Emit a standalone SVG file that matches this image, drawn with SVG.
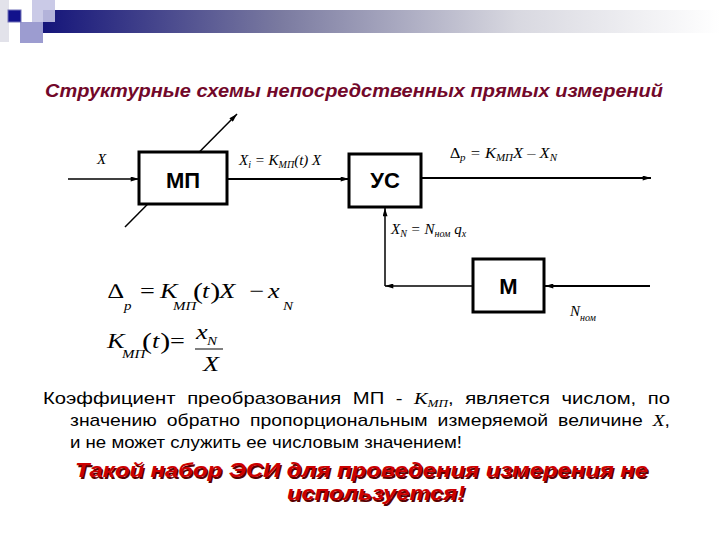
<svg xmlns="http://www.w3.org/2000/svg" width="720" height="540" viewBox="0 0 720 540">
<defs>
<linearGradient id="bar" x1="0" y1="0" x2="1" y2="0">
<stop offset="0" stop-color="#15157a"/>
<stop offset="0.35" stop-color="#7a7aa0"/>
<stop offset="0.7" stop-color="#d8d8e0"/>
<stop offset="1" stop-color="#ffffff"/>
</linearGradient>
<marker id="ah" viewBox="0 0 10 6" refX="10" refY="3" markerWidth="9" markerHeight="5" markerUnits="userSpaceOnUse" orient="auto"><path d="M0,0 L10,3 L0,6 z" fill="#000"/></marker>
</defs>
<style>
.box{fill:#fff;stroke:#000;stroke-width:3}
.bt{font-family:"Liberation Sans",Arial,sans-serif;font-weight:bold;font-size:22px;text-anchor:middle}
.lbl{font-family:"Liberation Serif","Times New Roman",serif;font-style:italic;font-size:15px}
.sub{font-size:10px}
.fm{font-family:"Liberation Serif","Times New Roman",serif;font-style:italic;font-size:21px}
.fs{font-size:12px}
.up{font-style:normal}
.body{font-family:"Liberation Sans",Arial,sans-serif;font-size:17px;fill:#000}
.title{font-family:"Liberation Sans",Arial,sans-serif;font-weight:bold;font-style:italic;font-size:18px;fill:#72082a}
.red{font-family:"Liberation Sans",Arial,sans-serif;font-weight:bold;font-style:italic;font-size:21px}
.ln{stroke:#000;fill:none}
</style>
<g id="decor">
<rect x="0" y="0" width="9" height="42" fill="#e2e2ea"/>
<rect x="43" y="10" width="677" height="23" fill="url(#bar)"/>
<rect x="32" y="0" width="23" height="22" fill="#c4c4e4" opacity="0.9"/>
<rect x="20" y="22" width="23" height="21" fill="#9c9cd0"/>
<rect x="8" y="10" width="13" height="12" fill="#12128c" stroke="#7070b8" stroke-width="1"/>
</g>
<text class="title" x="45" y="97" textLength="618" lengthAdjust="spacingAndGlyphs">Структурные схемы непосредственных прямых измерений</text>
<g id="connectors">
<line class="ln" x1="68" y1="179" x2="139" y2="179" stroke-width="1.5" marker-end="url(#ah)"/>
<line class="ln" x1="125" y1="227" x2="237" y2="114" stroke-width="1.5" marker-end="url(#ah)"/>
<line class="ln" x1="227" y1="179" x2="349" y2="179" stroke-width="2" marker-end="url(#ah)"/>
<line class="ln" x1="421" y1="178" x2="651" y2="178" stroke-width="2" marker-end="url(#ah)"/>
<line class="ln" x1="473" y1="286" x2="385" y2="286" stroke-width="1.5" marker-end="url(#ah)"/>
<line class="ln" x1="385" y1="286" x2="385" y2="208" stroke-width="1.5" marker-end="url(#ah)"/>
<line class="ln" x1="650" y1="286" x2="545" y2="286" stroke-width="2" marker-end="url(#ah)"/>
</g>
<g id="mp">
<rect class="box" x="139" y="152" width="88" height="52"/>
<text class="bt" x="183" y="188">МП</text>
</g>
<g id="us">
<rect class="box" x="349" y="154" width="72" height="53"/>
<text class="bt" x="385" y="188">УС</text>
</g>
<g id="m">
<rect class="box" x="473" y="259" width="71" height="53" stroke-width="2.5"/>
<text class="bt" x="508.5" y="294" font-size="24">М</text>
</g>
<g id="labels">
<text class="lbl" x="97" y="164">X</text>
<text class="lbl" x="239" y="165">X<tspan class="sub" dy="3">i</tspan><tspan dy="-3"> = K</tspan><tspan class="sub" dy="3">МП</tspan><tspan dy="-3">(t) X</tspan></text>
<text class="lbl" x="450" y="158" font-size="14" textLength="107" lengthAdjust="spacingAndGlyphs">∆<tspan class="sub" dy="3" font-size="10">p</tspan><tspan dy="-3"> = K</tspan><tspan class="sub" dy="3" font-size="10">МП</tspan><tspan dy="-3">X – X</tspan><tspan class="sub" dy="3" font-size="10">N</tspan></text>
<text class="lbl" x="391" y="234">X<tspan class="sub" dy="3">N</tspan><tspan dy="-3"> = N</tspan><tspan class="sub" dy="3">ном</tspan><tspan dy="-3"> q</tspan><tspan class="sub" dy="3">x</tspan></text>
<text class="lbl" x="570" y="316">N<tspan class="sub" dy="5">ном</tspan></text>
</g>
<g id="formulas" transform="matrix(1.25,0,0,1,-26.25,0)">
<text class="fm"><tspan class="up" x="107.4" y="298">∆</tspan><tspan class="fs" x="120.2" y="310">p</tspan><tspan class="up" x="133" y="298">=</tspan><tspan x="149" y="298">K</tspan><tspan class="fs" x="159.4" y="310">МП</tspan><tspan class="up" x="175.4" y="299" font-size="24">(</tspan><tspan x="182.6" y="298">t</tspan><tspan class="up" x="189.2" y="299" font-size="24">)</tspan><tspan x="196.5" y="298">X</tspan><tspan class="up" x="220.5" y="298">−</tspan><tspan x="235.4" y="298">x</tspan><tspan class="fs" x="247.4" y="310">N</tspan></text>
<text class="fm"><tspan x="106.6" y="348">K</tspan><tspan class="fs" x="118.6" y="358">МП</tspan><tspan class="up" x="134.6" y="349" font-size="24">(</tspan><tspan x="142.6" y="348">t</tspan><tspan class="up" x="149.2" y="349" font-size="24">)</tspan><tspan class="up" x="157" y="348">=</tspan><tspan x="177.8" y="339">x</tspan><tspan class="fs" x="186.6" y="345">N</tspan><tspan x="183.4" y="371">X</tspan></text>
<line x1="177" y1="349" x2="199.4" y2="349" stroke="#000" stroke-width="1"/>
</g>
<g id="body">
<text class="body" x="43" y="404" textLength="627" lengthAdjust="spacingAndGlyphs" word-spacing="5">Коэффициент преобразования МП  - <tspan font-family="Liberation Serif,serif" font-style="italic">K</tspan><tspan font-family="Liberation Serif,serif" font-style="italic" font-size="11" dy="3">МП</tspan><tspan dy="-3">, является числом, по</tspan></text>
<text class="body" x="70" y="426" textLength="600" lengthAdjust="spacingAndGlyphs" word-spacing="4">значению обратно пропорциональным измеряемой величине <tspan font-family="Liberation Serif,serif" font-style="italic">X</tspan>,</text>
<text class="body" x="70" y="448" textLength="392" lengthAdjust="spacingAndGlyphs">и не может служить ее числовым значением!</text>
</g>
<g id="conclusion">
<text class="red" x="76.5" y="478.5" fill="#5a0000" textLength="573" lengthAdjust="spacingAndGlyphs">Такой набор ЭСИ для проведения измерения не</text>
<text class="red" x="75" y="477" fill="#cc0000" textLength="573" lengthAdjust="spacingAndGlyphs">Такой набор ЭСИ для проведения измерения не</text>
<text class="red" x="288.5" y="501.5" fill="#5a0000" textLength="178" lengthAdjust="spacingAndGlyphs">используется!</text>
<text class="red" x="287" y="500" fill="#cc0000" textLength="178" lengthAdjust="spacingAndGlyphs">используется!</text>
</g>
</svg>
